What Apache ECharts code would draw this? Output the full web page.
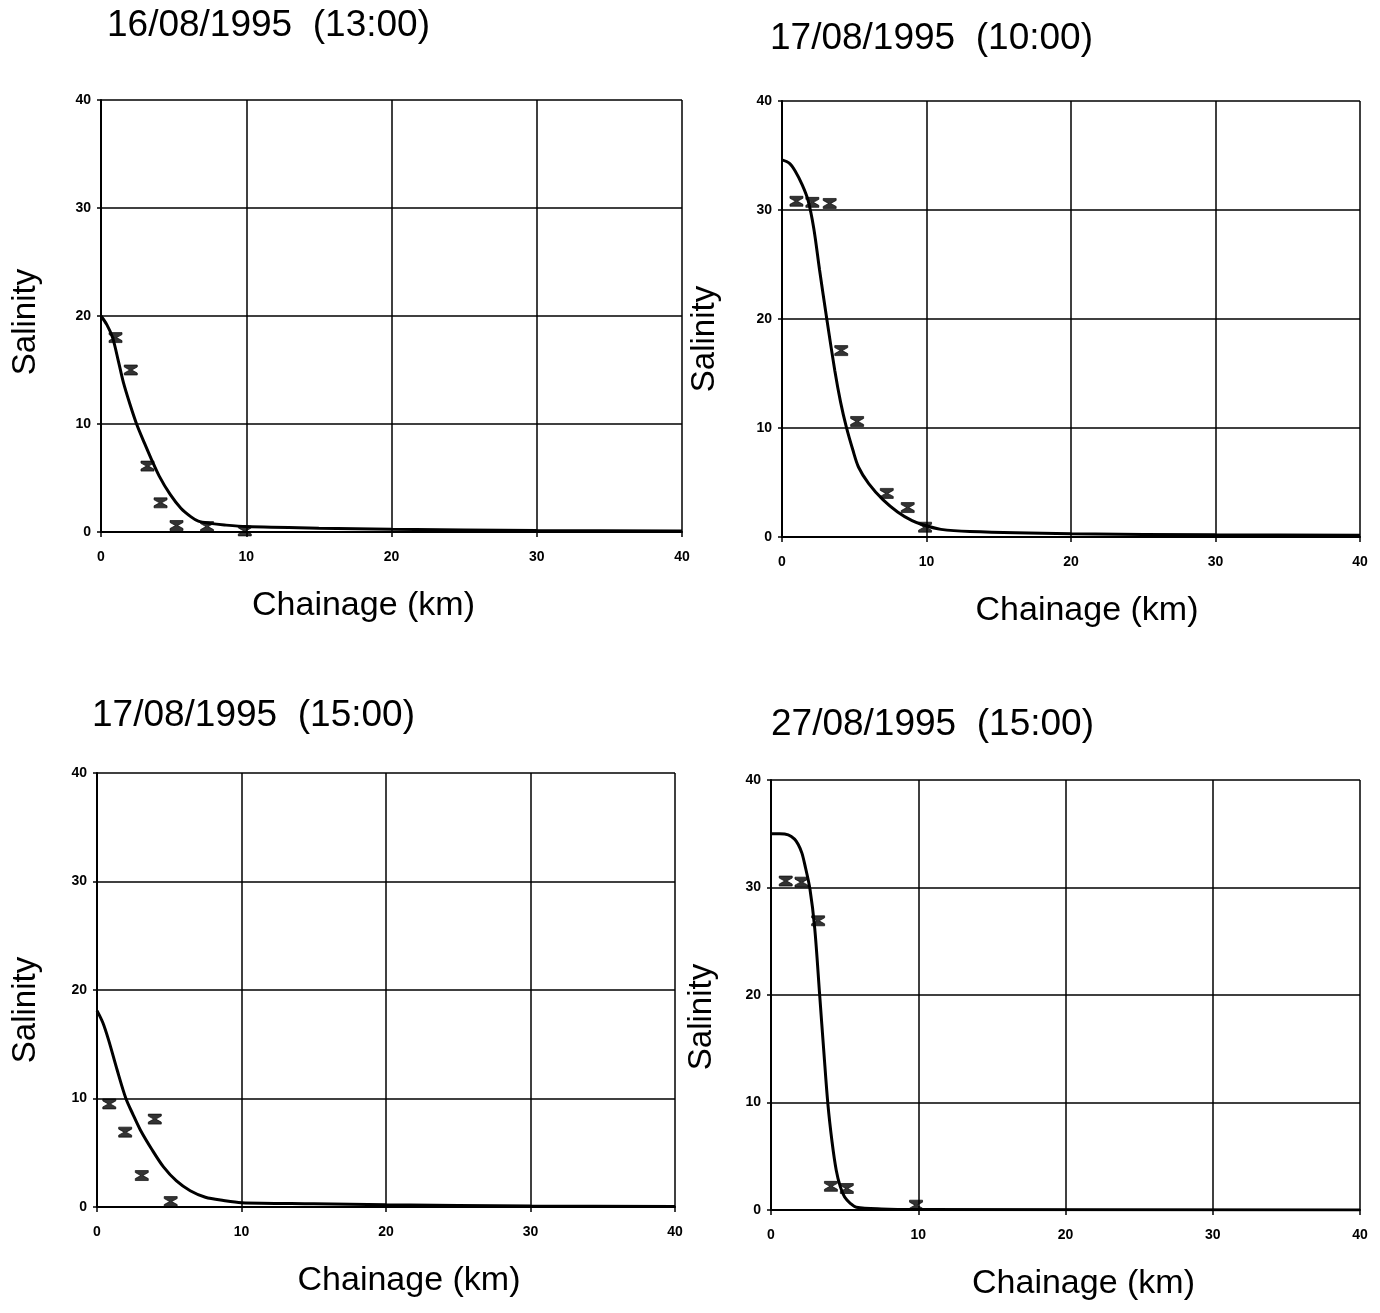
<!DOCTYPE html>
<html>
<head>
<meta charset="utf-8">
<script src="https://cdn.jsdelivr.net/npm/echarts@6/dist/echarts.min.js"></script>
<style>
  html, body { margin: 0; padding: 0; background: #fff; }
  #main { width: 1380px; height: 1313px; }
</style>
</head>
<body>
<div id="main"></div>
<script>
// panel titles
var titles = ["16/08/1995  (13:00)", "17/08/1995  (10:00)", "17/08/1995  (15:00)", "27/08/1995  (15:00)"];

var xTicks = [0, 10, 20, 30, 40];
var yTicks = [0, 10, 20, 30, 40];

// model curves [chainage km, salinity]
var model1 = [[0,20],[0.4,19.2],[0.8,18],[1.2,15.8],[1.55,13.8],[2,11.8],[2.45,10],[3,8.2],[3.45,6.8],[4,5.2],[4.75,3.5],[5.5,2.2],[6.2,1.4],[6.7,1],[7.5,0.8],[8.5,0.65],[10,0.5],[15,0.35],[20,0.25],[30,0.15],[40,0.1]];
var model2 = [[0,34.6],[0.5,34.3],[0.9,33.6],[1.4,32.3],[1.8,30.9],[2.2,28.3],[2.6,24.5],[3.1,20],[3.65,15.3],[4.05,12.4],[4.45,10.1],[4.9,8],[5.3,6.4],[6,4.9],[7,3.4],[8,2.3],[9,1.5],[9.8,1.1],[11,0.7],[13,0.5],[20,0.3],[30,0.2],[40,0.15]];
var model3 = [[0,18.1],[0.4,17],[0.8,15.4],[1.4,12.6],[2,10],[2.5,8.5],[3,7.1],[3.8,5.3],[4.6,3.7],[5.5,2.4],[6.45,1.5],[7.5,0.9],[8.75,0.6],[10,0.4],[15,0.3],[20,0.2],[30,0.1],[40,0.05]];
var model4 = [[0,35],[0.6,35],[1.17,34.9],[1.6,34.5],[1.85,34],[2.1,33.2],[2.3,32.1],[2.64,29.9],[2.97,26.2],[3.3,20.1],[3.6,14.5],[3.86,9.9],[4.15,6.3],[4.43,3.7],[4.7,2.2],[5,1.2],[5.4,0.6],[5.8,0.25],[7.5,0.1],[10,0.05],[40,0]];

// observed salinity
var obs1 = [[1,18],[2.05,15],[3.2,6.1],[4.1,2.7],[5.2,0.6],[7.3,0.5],[9.9,0.1]];
var obs2 = [[1,30.8],[2.1,30.7],[3.3,30.6],[4.1,17.1],[5.2,10.6],[7.25,4.0],[8.7,2.7],[9.9,0.9]];
var obs3 = [[0.85,9.5],[1.95,6.9],[3.1,2.9],[4.0,8.1],[5.1,0.5]];
var obs4 = [[1.0,30.6],[2.07,30.5],[3.2,26.9],[4.07,2.2],[5.15,2.0],[9.85,0.45]];

var models = [model1, model2, model3, model4];
var observed = [obs1, obs2, obs3, obs4];

var font = "Arial, 'Liberation Sans', sans-serif";
// hourglass marker with bars top and bottom
var hourglass = 'path://M0,0 L12,0 L12,2 L7,5 L12,8 L12,10 L0,10 L0,8 L5,5 L0,2 Z';

var grids = [
  { left: 101, top: 100, width: 581, height: 432 },
  { left: 782, top: 101, width: 578, height: 436 },
  { left: 97, top: 773, width: 578, height: 434 },
  { left: 771, top: 780, width: 589, height: 430 }
];
var titlePos = [[107, 7], [770, 20], [92, 697], [771, 706]];
var xNamePad = [[0, 56, 0, 0], [0, 0, 0, 32], [0, 0, 0, 46], [0, 0, 0, 36]];
var yNameGap = [59, 61, 55, 53];
var yNamePad = [[0, 12, 0, 0], [0, 40, 0, 0], [0, 40, 0, 0], [0, 44, 0, 0]];

var option = {
  backgroundColor: '#fff',
  animation: false,
  title: [],
  grid: [],
  xAxis: [],
  yAxis: [],
  series: []
};

for (var i = 0; i < 4; i++) {
  option.title.push({
    text: titles[i],
    left: titlePos[i][0],
    top: titlePos[i][1],
    padding: 0,
    textStyle: { fontFamily: font, fontSize: 37, fontWeight: 'normal', color: '#000' }
  });
  option.grid.push(grids[i]);
  option.xAxis.push({
    gridIndex: i,
    type: 'value',
    min: xTicks[0],
    max: xTicks[xTicks.length - 1],
    interval: 10,
    name: 'Chainage (km)',
    nameLocation: 'middle',
    nameGap: 57,
    nameTextStyle: { fontFamily: font, fontSize: 34, color: '#000', padding: xNamePad[i] },
    axisLine: { show: true, lineStyle: { color: '#000', width: 2 } },
    axisTick: { show: true, length: 5, lineStyle: { color: '#000', width: 1.5 } },
    axisLabel: { fontFamily: font, fontSize: 14, fontWeight: 'bold', color: '#000', margin: 18 },
    splitLine: { show: true, lineStyle: { color: '#000', width: 1.5 } }
  });
  option.yAxis.push({
    gridIndex: i,
    type: 'value',
    min: yTicks[0],
    max: yTicks[yTicks.length - 1],
    interval: 10,
    name: 'Salinity',
    nameLocation: 'middle',
    nameGap: yNameGap[i],
    nameTextStyle: { fontFamily: font, fontSize: 33, color: '#000', padding: yNamePad[i] },
    axisLine: { show: true, lineStyle: { color: '#000', width: 2 } },
    axisTick: { show: true, length: 4, lineStyle: { color: '#000', width: 1.5 } },
    axisLabel: { fontFamily: font, fontSize: 14, fontWeight: 'bold', color: '#000', margin: 10, padding: [0, 0, 8, 0] },
    splitLine: { show: true, lineStyle: { color: '#000', width: 1.5 } }
  });
  option.series.push({
    type: 'line',
    xAxisIndex: i,
    yAxisIndex: i,
    data: models[i],
    smooth: 0.3,
    showSymbol: false,
    lineStyle: { color: '#000', width: 3 },
    z: 3
  });
  option.series.push({
    type: 'scatter',
    xAxisIndex: i,
    yAxisIndex: i,
    data: observed[i],
    symbol: hourglass,
    symbolSize: [13, 10],
    itemStyle: { color: '#000', borderColor: '#000', borderWidth: 0.8 },
    z: 4
  });
}

var myChart = echarts.init(document.getElementById('main'));
myChart.setOption(option);
</script>
</body>
</html>
